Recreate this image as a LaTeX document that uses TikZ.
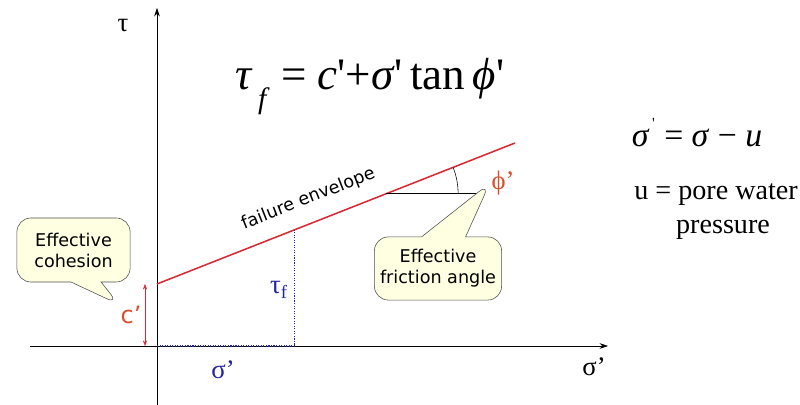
\documentclass[tikz,border=0pt]{standalone}
\usepackage{fontspec}
\setmainfont{Liberation Serif}
\newfontfamily\calloutfont{DejaVu Sans}
\usetikzlibrary{arrows.meta, shapes.callouts, calc, positioning}
\definecolor{envred}{HTML}{D82A35}
\definecolor{labelred}{HTML}{D9502E}
\definecolor{tfblue}{HTML}{2424A0}
\definecolor{notefill}{HTML}{FFFFE1}
\definecolor{noteedge}{HTML}{4D4D4D}

\begin{document}
\begin{tikzpicture}[
    x=0.025cm, y=0.025cm,
    axis/.style={-{Stealth[length=6pt, width=4pt]}, thin},
    envelope/.style={envred, line width=1.1pt},
    guide/.style={tfblue, densely dotted, line width=0.8pt},
    note/.style={rectangle callout, rounded corners=10pt, draw=noteedge,
                 fill=notefill, align=center, inner sep=4pt,
                 font=\calloutfont\fontsize{12.5}{15}\selectfont},
    greek/.style={font=\fontsize{19}{22}\selectfont},
]
\useasboundingbox (0,0) rectangle (800,405);

% === Axes ===
\coordinate (O) at (157,59);
\coordinate (ybot) at (157,0);
\coordinate (ytop) at (157,397);
\coordinate (xleft) at (30,59);
\coordinate (xright) at (608,59);
\draw[axis] (ybot) -- (ytop);
\draw[axis] (xleft) -- (xright);
\node[greek] (taulab) at (123,379) {τ};
\node[greek] (siglab) at (594,38) {σ’};

% === Failure envelope ===
\coordinate (A) at (157,121);
\coordinate (B) at (515,262);
\draw[envelope] (A) -- node[pos=0.447, above=7pt, sloped, text=black,
  font=\calloutfont\fontsize{12.5}{14}\selectfont] (envtxt) {failure envelope} (B);

% === Cohesion intercept ===
\coordinate (cbot) at (145,59);
\coordinate (ctop) at (145,121);
\draw[{Stealth[length=4pt]}-{Stealth[length=4pt]}, envred] (cbot) -- (ctop);
\node[labelred, inner sep=1pt, font=\calloutfont\fontsize{17}{20}\selectfont]
  (cpr) at (131,90) {c’};

% === Shear strength at sigma' ===
\coordinate (F) at ($(A)!0.385!(B)$);
\draw[guide] (O) -- (F |- O) -- (F);
\node[greek, tfblue] (tauf) at (279,115) {τ\textsubscript{f}};
\node[greek, tfblue] (sigb) at (223,35) {σ’};

% === Friction angle ===
\coordinate (P) at ($(A)!0.64!(B)$);
\coordinate (hend) at ($(P)+(94,0)$);
\draw[thin] (P) -- (hend);
\draw[thin] ($(P)+(72,0)$) arc[start angle=0, end angle=21.5, radius=72];
\node[greek, labelred, inner sep=1pt] (phi) at (503,222) {ϕ’};

% === Callouts ===
\node[note, minimum width=2.83cm, minimum height=1.6cm,
      callout pointer width=0.75cm,
      callout absolute pointer={(cpr.north west)}] (cohesion) at (73.5,155)
  {Effective\\cohesion};
\node[note, minimum width=3.1cm, minimum height=1.58cm,
      callout pointer width=1.1cm,
      callout absolute pointer={(phi.west)}] (friction) at (438,136.5)
  {Effective\\friction angle};

% === Equations ===
\node[anchor=base, font=\fontsize{32}{36}\selectfont] (law) at (370,315)
  {\textit{τ}\raisebox{-0.42em}{\fontsize{21}{24}\selectfont\,\textit{f}}
   = \textit{c}\textquotesingle+\textit{σ}\textquotesingle\,tan\,\textit{ϕ}\textquotesingle};
\node[anchor=base, font=\fontsize{24}{26}\selectfont] (eff) at (697,258)
  {\textit{σ}\raisebox{0.55em}{\fontsize{11}{12}\selectfont\,\textquotesingle}\;= \textit{σ} − \textit{u}};
\node[anchor=base, font=\fontsize{20}{24}\selectfont] (pore) at (716,205)
  {u = pore water};
\node[anchor=base, font=\fontsize{20}{24}\selectfont] (press) at (723,171)
  {pressure};

\end{tikzpicture}
\end{document}
